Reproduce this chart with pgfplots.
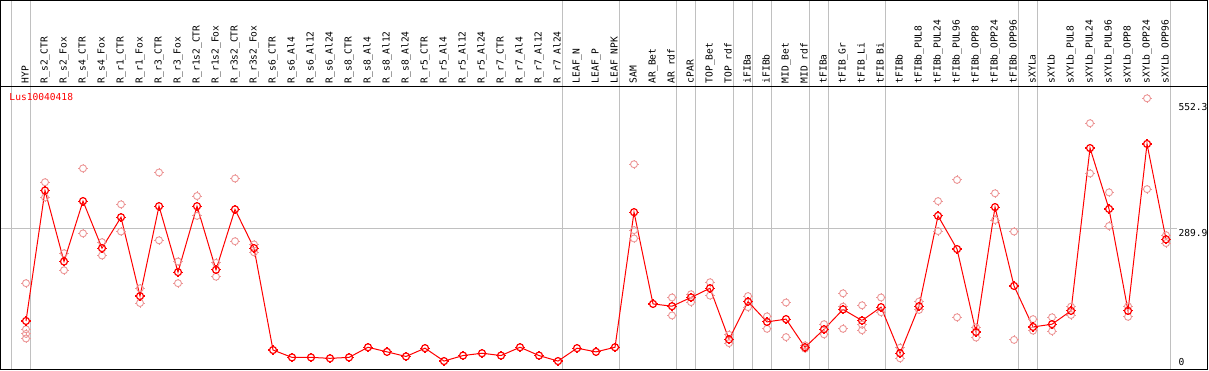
\documentclass[border=0pt]{standalone}
\usepackage{pgfplots}
\pgfplotsset{compat=1.18}
\usepackage{fontspec}
\setmainfont{DejaVu Sans Mono}
\definecolor{rep}{RGB}{236,150,150}
\definecolor{sep}{RGB}{192,192,192}
\pgfdeclareplotmark{ct}{%
  \pgfpathcircle{\pgfpointorigin}{\pgfplotmarksize}%
  \pgfusepathqstroke
  \pgfpathmoveto{\pgfpoint{0pt}{\pgfplotmarksize}}\pgfpathlineto{\pgfpoint{0pt}{1.3\pgfplotmarksize}}%
  \pgfpathmoveto{\pgfpoint{0pt}{-\pgfplotmarksize}}\pgfpathlineto{\pgfpoint{0pt}{-1.3\pgfplotmarksize}}%
  \pgfpathmoveto{\pgfpoint{\pgfplotmarksize}{0pt}}\pgfpathlineto{\pgfpoint{1.3\pgfplotmarksize}{0pt}}%
  \pgfpathmoveto{\pgfpoint{-\pgfplotmarksize}{0pt}}\pgfpathlineto{\pgfpoint{-1.3\pgfplotmarksize}{0pt}}%
  \pgfusepathqstroke}

\pgfplotstableread{
x y
0 89
1 372
2 218
3 349
4 247
5 314
6 143
7 338
8 195
9 338
10 200
11 331
12 247
13 26
14 10
15 10
16 8
17 10
18 32
19 22
20 12
21 30
22 2
23 14
24 19
25 14
26 32
27 14
28 2
29 30
30 22
31 32
32 325
33 126
34 121
35 140
36 160
37 49
38 131
39 87
40 93
41 32
42 71
43 114
44 90
45 119
46 19
47 121
48 317
49 245
50 65
51 336
52 165
53 76
54 82
55 111
56 464
57 332
58 111
59 473
60 266
}\means

\pgfplotstableread{
x y
0 171
0 71
0 61
0 51
1 390
1 357
2 236
2 199
3 420
3 279
4 260
4 231
5 342
5 283
6 160
6 128
7 411
7 264
8 218
8 171
9 360
9 317
10 215
10 185
11 398
11 262
12 255
12 238
32 429
32 286
32 268
34 140
34 101
35 147
35 130
36 173
36 144
37 59
37 41
38 143
38 119
39 99
39 72
40 129
40 54
41 36
41 29
42 82
42 60
43 149
43 120
43 72
44 123
44 81
44 69
45 140
45 108
46 31
46 8
47 131
47 113
48 349
48 284
49 395
49 97
50 75
50 53
51 366
51 308
52 283
52 48
53 93
53 68
54 97
54 67
55 120
55 102
56 518
56 409
57 368
57 295
58 121
58 98
59 572
59 375
60 275
60 258
}\reps

\begin{document}
\begin{tikzpicture}
\useasboundingbox (0,0) rectangle (1209pt,370pt);
\begin{axis}[
  at={(1pt,1pt)}, anchor=south west,
  scale only axis, width=1206pt, height=283pt,
  xmin=-1.3158, xmax=62.158, ymin=-15.18, ymax=598.7,
  clip=false,
  axis line style={black, line width=1pt},
  ytick=\empty,
  xtick={0,...,60},
  xticklabel pos=upper,
  major tick length=0pt,
  xticklabel style={rotate=90, anchor=west, inner sep=0pt, inner xsep=2.5pt,
    text height=0.72em, text depth=0.22em,
    font=\fontsize{9.6}{10}\selectfont},
  xticklabels={HYP,R\_s2\_CTR,R\_s2\_Fox,R\_s4\_CTR,R\_s4\_Fox,R\_r1\_CTR,R\_r1\_Fox,R\_r3\_CTR,R\_r3\_Fox,R\_r1s2\_CTR,R\_r1s2\_Fox,R\_r3s2\_CTR,R\_r3s2\_Fox,R\_s6\_CTR,R\_s6\_Al4,R\_s6\_Al12,R\_s6\_Al24,R\_s8\_CTR,R\_s8\_Al4,R\_s8\_Al12,R\_s8\_Al24,R\_r5\_CTR,R\_r5\_Al4,R\_r5\_Al12,R\_r5\_Al24,R\_r7\_CTR,R\_r7\_Al4,R\_r7\_Al12,R\_r7\_Al24,LEAF\_N,LEAF\_P,LEAF\_NPK,SAM,AR\_Bet,AR\_rdf,cPAR,TOP\_Bet,TOP\_rdf,iFIBa,iFIBb,MID\_Bet,MID\_rdf,tFIBa,tFIB\_Gr,tFIB\_Li,tFIB\_Bi,tFIBb,tFIBb\_PUL8,tFIBb\_PUL24,tFIBb\_PUL96,tFIBb\_OPP8,tFIBb\_OPP24,tFIBb\_OPP96,sXYLa,sXYLb,sXYLb\_PUL8,sXYLb\_PUL24,sXYLb\_PUL96,sXYLb\_OPP8,sXYLb\_OPP24,sXYLb\_OPP96},
]
\pgfplotsinvokeforeach{-0.753,0.247,28.247,31.247,34.247,35.247,37.247,38.247,39.247,41.247,42.247,45.247,52.247,53.247,60.247}{
  \draw[sep, line width=1pt] (axis cs:#1,-15.18) -- (axis cs:#1,784.2);
}
\draw[sep, line width=1pt] (axis cs:-1.3158,289.9) -- (axis cs:60.6,289.9);
\draw[black, line width=1pt] (axis cs:-1.3158,598.7) rectangle (axis cs:62.158,784.2);

\addplot[only marks, mark=ct, mark size=3.5pt, rep, mark options={line width=0.9pt}] table[x=x,y=y] {\reps};
\addplot[red, line width=1pt, mark=ct, mark size=3.5pt, mark options={line width=1.2pt}] table[x=x,y=y] {\means};

\node[anchor=west, inner sep=0pt, text=red, font=\fontsize{9.6}{10}\selectfont] at (axis cs:-0.88,573.8) {Lus10040418};
\node[anchor=west, inner sep=0pt, font=\fontsize{9.6}{10}\selectfont] at (axis cs:60.65,552.3) {552.3};
\node[anchor=west, inner sep=0pt, font=\fontsize{9.6}{10}\selectfont] at (axis cs:60.65,280.9) {289.9};
\node[anchor=west, inner sep=0pt, font=\fontsize{9.6}{10}\selectfont] at (axis cs:60.65,0) {0};
\end{axis}
\end{tikzpicture}
\end{document}
